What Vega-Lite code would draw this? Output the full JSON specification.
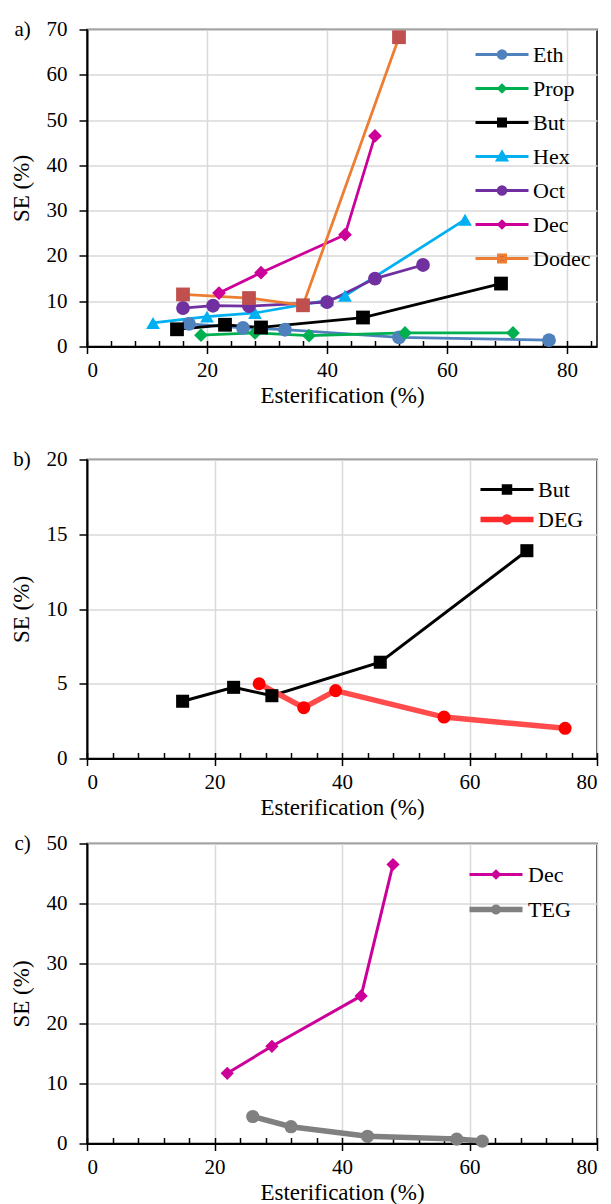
{
  "$schema": "https://vega.github.io/schema/vega-lite/v6.json",
  "padding": {"left": 9, "top": 17.5, "right": 5, "bottom": 0},
  "background": "white",
  "config": {
    "font": "Liberation Serif",
    "view": {"stroke": "black", "strokeWidth": 1.5},
    "axis": {
      "labelFont": "Liberation Serif", "titleFont": "Liberation Serif",
      "labelFontSize": 21, "titleFontSize": 23, "labelColor": "black", "titleColor": "black",
      "titleFontWeight": "normal", "domainColor": "black", "domainWidth": 2,
      "tickColor": "black", "tickWidth": 1.5, "gridColor": "#D9D9D9", "gridWidth": 1.5
    },
    "legend": {"labelFont": "Liberation Serif", "labelFontSize": 22, "labelColor": "black", "labelLimit": 300}
  },
  "datasets": {
    "a": [
      {"series": "Eth", "x": 17, "y": 5.0}, {"series": "Eth", "x": 26, "y": 4.1}, {"series": "Eth", "x": 33, "y": 3.7}, {"series": "Eth", "x": 52, "y": 2.0}, {"series": "Eth", "x": 77, "y": 1.4},
      {"series": "Prop", "x": 19, "y": 2.5}, {"series": "Prop", "x": 28, "y": 3.0}, {"series": "Prop", "x": 37, "y": 2.4}, {"series": "Prop", "x": 53, "y": 3.0}, {"series": "Prop", "x": 71, "y": 3.0},
      {"series": "But", "x": 15, "y": 3.8}, {"series": "But", "x": 23, "y": 4.8}, {"series": "But", "x": 29, "y": 4.2}, {"series": "But", "x": 46, "y": 6.4}, {"series": "But", "x": 69, "y": 13.9},
      {"series": "Hex", "x": 11, "y": 5.2}, {"series": "Hex", "x": 20, "y": 6.6}, {"series": "Hex", "x": 28, "y": 7.4}, {"series": "Hex", "x": 40, "y": 10.2}, {"series": "Hex", "x": 43, "y": 11.2}, {"series": "Hex", "x": 63, "y": 28.0},
      {"series": "Oct", "x": 16, "y": 8.5}, {"series": "Oct", "x": 21, "y": 9.0}, {"series": "Oct", "x": 27, "y": 8.9}, {"series": "Oct", "x": 40, "y": 9.8}, {"series": "Oct", "x": 48, "y": 15.0}, {"series": "Oct", "x": 56, "y": 18.0},
      {"series": "Dec", "x": 22, "y": 11.8}, {"series": "Dec", "x": 29, "y": 16.3}, {"series": "Dec", "x": 43, "y": 24.7}, {"series": "Dec", "x": 48, "y": 46.5},
      {"series": "Dodec", "x": 16, "y": 11.5}, {"series": "Dodec", "x": 27, "y": 10.7}, {"series": "Dodec", "x": 36, "y": 9.1}, {"series": "Dodec", "x": 52, "y": 68.3}
    ],
    "b": [
      {"series": "But", "x": 15, "y": 3.83}, {"series": "But", "x": 23, "y": 4.76}, {"series": "But", "x": 29, "y": 4.2}, {"series": "But", "x": 46, "y": 6.44}, {"series": "But", "x": 69, "y": 13.9},
      {"series": "DEG", "x": 27, "y": 5.0}, {"series": "DEG", "x": 34, "y": 3.4}, {"series": "DEG", "x": 39, "y": 4.54}, {"series": "DEG", "x": 56, "y": 2.77}, {"series": "DEG", "x": 75, "y": 2.02}
    ],
    "c": [
      {"series": "Dec", "x": 22, "y": 11.7}, {"series": "Dec", "x": 29, "y": 16.2}, {"series": "Dec", "x": 43, "y": 24.6}, {"series": "Dec", "x": 48, "y": 46.5},
      {"series": "TEG", "x": 26, "y": 4.5}, {"series": "TEG", "x": 32, "y": 2.8}, {"series": "TEG", "x": 44, "y": 1.2}, {"series": "TEG", "x": 58, "y": 0.73}, {"series": "TEG", "x": 62, "y": 0.4}
    ]
  },
  "bounds": "full",
  "spacing": 39,
  "resolve": {"scale": {"stroke": "independent", "fill": "independent", "shape": "independent", "strokeWidth": "independent"}},
  "vconcat": [
    {
      "width": 510, "height": 317,
      "data": {"name": "a"},
      "resolve": {"axis": {"x": "independent"}, "scale": {"x": "independent"}},
      "layer": [
        {
          "mark": {"type": "line", "strokeWidth": 2.75},
          "encoding": {
            "x": {"field": "x", "type": "quantitative", "scale": {"domain": [0, 85], "nice": false, "zero": false},
              "axis": {"values": [0, 20, 40, 60, 80], "title": "Esterification (%)", "tickSize": 7, "labelPadding": 6, "titlePadding": 4, "grid": true}},
            "y": {"field": "y", "type": "quantitative", "scale": {"domain": [0, 70], "nice": false},
              "axis": {"values": [0, 10, 20, 30, 40, 50, 60, 70], "title": "SE (%)", "tickSize": 8, "labelPadding": 12, "titleX": -54, "grid": true,
                "labelExpr": "datum.value == 70 ? 'a)\u00a0\u00a0\u00a070' : datum.label"}},
            "stroke": {"field": "series", "type": "nominal",
              "scale": {"domain": ["Eth", "Prop", "But", "Hex", "Oct", "Dec", "Dodec"], "range": ["#4F81BD", "#00B050", "#000000", "#00B0F0", "#7030A0", "#CC0099", "#ED7D31"]},
              "legend": {
                "title": null, "orient": "none", "legendX": 404, "legendY": 14, "direction": "vertical",
                "symbolSize": 100, "symbolStrokeWidth": 3, "labelOffset": 20, "rowPadding": 12,
                "encode": {"symbols": {"update": {
                  "shape": {"signal": "(datum.value === 'Eth' || datum.value === 'Oct') ? 'M-5.3,0L5.3,0M0.75,0A0.75,0.75 0 1,1 -0.75,0A0.75,0.75 0 1,1 0.75,0Z' : (datum.value === 'Prop' || datum.value === 'Dec') ? 'M-5.3,0L5.3,0M0,-0.65L0.65,0L0,0.65L-0.65,0Z' : (datum.value === 'But' || datum.value === 'Dodec') ? 'M-5.3,0L5.3,0M-0.7,-0.7L0.7,-0.7L0.7,0.7L-0.7,0.7Z' : 'M-5.3,0L5.3,0M0,-0.85L0.9,0.7L-0.9,0.7Z'"},
                  "fill": {"signal": "datum.value === 'Eth' ? '#4F81BD' : datum.value === 'Prop' ? '#00B050' : datum.value === 'But' ? '#000000' : datum.value === 'Hex' ? '#00B0F0' : datum.value === 'Oct' ? '#7030A0' : datum.value === 'Dec' ? '#CC0099' : '#C0504D'"},
                  "strokeWidth": {"value": 3},
                  "opacity": {"value": 1}
                }}}
              }}
          }
        },
        {
          "mark": {"type": "point", "filled": true, "size": 190, "opacity": 1},
          "encoding": {
            "x": {"field": "x", "type": "quantitative", "scale": {"domain": [0, 85], "nice": false, "zero": false},
              "axis": {"orient": "bottom", "values": [0, 4, 8, 12, 16, 20, 24, 28, 32, 36, 40, 44, 48, 52, 56, 60, 64, 68, 72, 76, 80, 84], "labels": false, "domain": false, "grid": false, "tickSize": -6, "title": null}},
            "y": {"field": "y", "type": "quantitative"},
            "fill": {"field": "series", "type": "nominal",
              "scale": {"domain": ["Dodec", "Dec", "Oct", "Hex", "But", "Prop", "Eth"], "range": ["#C0504D", "#CC0099", "#7030A0", "#00B0F0", "#000000", "#00B050", "#4F81BD"]}, "legend": null},
            "shape": {"field": "series", "type": "nominal",
              "scale": {"domain": ["Dodec", "Dec", "Oct", "Hex", "But", "Prop", "Eth"], "range": ["square", "diamond", "circle", "triangle-up", "square", "diamond", "circle"]}, "legend": null}
          }
        }
      ]
    },
    {
      "bounds": "flush",
      "spacing": 85,
      "resolve": {"scale": {"stroke": "independent", "fill": "independent", "shape": "independent", "strokeWidth": "independent"}},
      "vconcat": [
        {
          "width": 510, "height": 299,
          "data": {"name": "b"},
          "resolve": {"axis": {"x": "independent"}, "scale": {"x": "independent"}},
          "layer": [
            {
              "mark": {"type": "line"},
              "encoding": {
                "x": {"field": "x", "type": "quantitative", "scale": {"domain": [0, 80], "nice": false, "zero": false},
                  "axis": {"values": [0, 20, 40, 60, 80], "title": "Esterification (%)", "tickSize": 7, "labelPadding": 6, "titlePadding": 4, "grid": true}},
                "y": {"field": "y", "type": "quantitative", "scale": {"domain": [0, 20], "nice": false},
                  "axis": {"values": [0, 5, 10, 15, 20], "title": "SE (%)", "tickSize": 8, "labelPadding": 12, "titleX": -54, "grid": true,
                    "labelExpr": "datum.value == 20 ? 'b)\u00a0\u00a0\u00a020' : datum.label"}},
                "stroke": {"field": "series", "type": "nominal",
                  "scale": {"domain": ["But", "DEG"], "range": ["#000000", "#FF4B4B"]},
                  "legend": {
                    "title": null, "orient": "none", "legendX": 409, "legendY": 19, "direction": "vertical",
                    "symbolSize": 100, "symbolStrokeWidth": 3, "labelOffset": 20, "rowPadding": 8,
                    "encode": {"symbols": {"update": {
                      "shape": {"signal": "datum.value === 'But' ? 'M-5.3,0L5.3,0M-0.75,-0.75L0.75,-0.75L0.75,0.75L-0.75,0.75Z' : 'M-5.3,-0.55L5.3,-0.55L5.3,0.55L-5.3,0.55ZM1.05,0A1.05,1.05 0 1,1 -1.05,0A1.05,1.05 0 1,1 1.05,0Z'"},
                      "fill": {"signal": "datum.value === 'But' ? '#000000' : '#FF2A2A'"},
                      "strokeWidth": {"signal": "datum.value === 'But' ? 3 : 0"},
                      "opacity": {"value": 1}
                    }}}
                  }},
                "strokeWidth": {"field": "series", "type": "ordinal", "scale": {"domain": ["DEG", "But"], "range": [5.5, 3]}, "legend": null}
              }
            },
            {
              "mark": {"type": "point", "filled": true, "size": 170, "opacity": 1},
              "encoding": {
                "x": {"field": "x", "type": "quantitative", "scale": {"domain": [0, 80], "nice": false, "zero": false},
                  "axis": {"orient": "bottom", "values": [0, 4, 8, 12, 16, 20, 24, 28, 32, 36, 40, 44, 48, 52, 56, 60, 64, 68, 72, 76, 80], "labels": false, "domain": false, "grid": false, "tickSize": -6, "title": null}},
                "y": {"field": "y", "type": "quantitative"},
                "fill": {"field": "series", "type": "nominal", "scale": {"domain": ["DEG", "But"], "range": ["#FF0000", "#000000"]}, "legend": null},
                "shape": {"field": "series", "type": "nominal", "scale": {"domain": ["DEG", "But"], "range": ["circle", "square"]}, "legend": null}
              }
            }
          ]
        },
        {
          "width": 510, "height": 300,
          "data": {"name": "c"},
          "resolve": {"axis": {"x": "independent"}, "scale": {"x": "independent"}},
          "layer": [
            {
              "mark": {"type": "line"},
              "encoding": {
                "x": {"field": "x", "type": "quantitative", "scale": {"domain": [0, 80], "nice": false, "zero": false},
                  "axis": {"values": [0, 20, 40, 60, 80], "title": "Esterification (%)", "tickSize": 7, "labelPadding": 6, "titlePadding": 4, "grid": true}},
                "y": {"field": "y", "type": "quantitative", "scale": {"domain": [0, 50], "nice": false},
                  "axis": {"values": [0, 10, 20, 30, 40, 50], "title": "SE (%)", "tickSize": 8, "labelPadding": 12, "titleX": -54, "grid": true,
                    "labelExpr": "datum.value == 50 ? 'c)\u00a0\u00a0\u00a050' : datum.label"}},
                "stroke": {"field": "series", "type": "nominal",
                  "scale": {"domain": ["Dec", "TEG"], "range": ["#CC0099", "#808080"]},
                  "legend": {
                    "title": null, "orient": "none", "legendX": 398, "legendY": 20, "direction": "vertical",
                    "symbolSize": 100, "symbolStrokeWidth": 3, "labelOffset": 21, "rowPadding": 13,
                    "encode": {"symbols": {"update": {
                      "shape": {"signal": "datum.value === 'Dec' ? 'M-5.3,0L5.3,0M0,-0.65L0.65,0L0,0.65L-0.65,0Z' : 'M-5.3,-0.55L5.3,-0.55L5.3,0.55L-5.3,0.55ZM1,0A1,1 0 1,1 -1,0A1,1 0 1,1 1,0Z'"},
                      "fill": {"signal": "datum.value === 'Dec' ? '#CC0099' : '#808080'"},
                      "strokeWidth": {"signal": "datum.value === 'Dec' ? 3 : 0"},
                      "opacity": {"value": 1}
                    }}}
                  }},
                "strokeWidth": {"field": "series", "type": "ordinal", "scale": {"domain": ["TEG", "Dec"], "range": [5.5, 3]}, "legend": null}
              }
            },
            {
              "mark": {"type": "point", "filled": true, "size": 175, "opacity": 1},
              "encoding": {
                "x": {"field": "x", "type": "quantitative", "scale": {"domain": [0, 80], "nice": false, "zero": false},
                  "axis": {"orient": "bottom", "values": [0, 4, 8, 12, 16, 20, 24, 28, 32, 36, 40, 44, 48, 52, 56, 60, 64, 68, 72, 76, 80], "labels": false, "domain": false, "grid": false, "tickSize": -6, "title": null}},
                "y": {"field": "y", "type": "quantitative"},
                "fill": {"field": "series", "type": "nominal", "scale": {"domain": ["TEG", "Dec"], "range": ["#808080", "#CC0099"]}, "legend": null},
                "shape": {"field": "series", "type": "nominal", "scale": {"domain": ["TEG", "Dec"], "range": ["circle", "diamond"]}, "legend": null}
              }
            }
          ]
        }
      ]
    }
  ]
}
